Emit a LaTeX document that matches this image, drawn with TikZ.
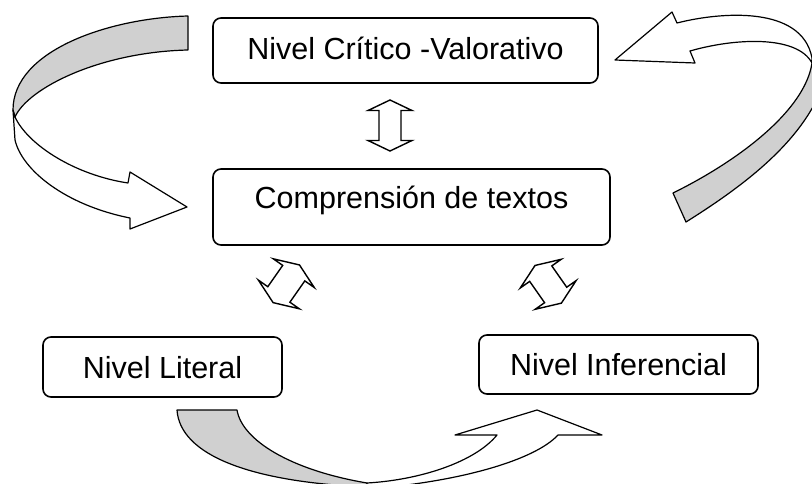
\documentclass[tikz,border=0pt]{standalone}
\usepackage{fontspec}
\setmainfont{Liberation Sans}
\definecolor{bandgrey}{RGB}{208,208,208}
\tikzset{
  box/.style={draw, line width=1.6pt, rounded corners=8pt,
    font=\fontsize{30.5}{36}\selectfont, text height=22pt, text depth=0pt, inner sep=0pt},
  blockarrow/.style={draw, line width=1.4pt, fill=white, line join=miter},
  ribbon/.style={draw, line width=1.2pt, line join=round},
}
% center x, center y, angle, length, head length, shaft half width, head half width
\newcommand\dblarr[7]{%
  \begin{scope}[shift={(#1,#2)}, rotate=#3]
    \path[blockarrow] ({#4/2},0) -- ({#4/2-#5},#7) -- ({#4/2-#5},#6) -- ({-#4/2+#5},#6)
      -- ({-#4/2+#5},#7) -- ({-#4/2},0) -- ({-#4/2+#5},-#7) -- ({-#4/2+#5},-#6)
      -- ({#4/2-#5},-#6) -- ({#4/2-#5},-#7) -- cycle;
  \end{scope}}
\begin{document}
\begin{tikzpicture}[x=1pt, y=-1pt]
\useasboundingbox (0,0) rectangle (812,484);
\clip (0,0) rectangle (812,484);

% boxes
\node[box, minimum width=385pt, minimum height=65pt, text depth=4pt] (crit) at (405.5,50.5) {Nivel Crítico -Valorativo};
\node[box, minimum width=397pt, minimum height=76pt, text depth=18pt] (comp) at (411.5,207) {Comprensión de textos};
\node[box, minimum width=239pt, minimum height=60pt] (lit) at (162.5,367) {Nivel Literal};
\node[box, minimum width=279pt, minimum height=59pt] (inf) at (618.5,364.5) {Nivel Inferencial};

% double block arrows
\dblarr{390}{125.5}{90}{51}{10.5}{11}{22}
\dblarr{286.3}{283.8}{55}{46}{10}{13.5}{25}
\dblarr{548.2}{284.3}{125}{46}{10}{13.5}{25}

% left curved arrow
\path[ribbon, fill=bandgrey] (188,16) .. controls (110,18) and (13,50) .. (13,110)
  -- (15,117) .. controls (28,88) and (100,52) .. (188,50) -- cycle;
\path[ribbon, fill=white] (15,117) .. controls (28,145) and (75,175) .. (128,183)
  -- (130,172) -- (187,207) -- (130,229) -- (130,218)
  .. controls (65,205) and (22,170) .. (15,140) -- (13,110) -- cycle;

% right curved arrow
\path[ribbon, fill=bandgrey] (812,63) .. controls (805,110) and (740,160) .. (673,193)
  -- (686,222) .. controls (745,185) and (805,140) .. (825,80) -- (825,63) -- cycle;
\path[ribbon, fill=white] (677,23) .. controls (720,12) and (802,5) .. (812,58)
  -- (812,63) .. controls (797,35) and (735,38) .. (690,51)
  -- (695,63) -- (615,60) -- (672,12) -- cycle;

% bottom curved arrow
\path[ribbon, fill=bandgrey] (177,410) -- (237,410) .. controls (242,440) and (290,470) .. (367,483)
  -- (367,487) .. controls (250,482) and (180,455) .. (177,410) -- cycle;
\path[ribbon, fill=white] (367,483) .. controls (420,480) and (475,462) .. (497,435)
  -- (455,435) -- (537,410) -- (602,435) -- (558,435)
  .. controls (535,460) and (460,482) .. (367,489) -- cycle;
\end{tikzpicture}
\end{document}
